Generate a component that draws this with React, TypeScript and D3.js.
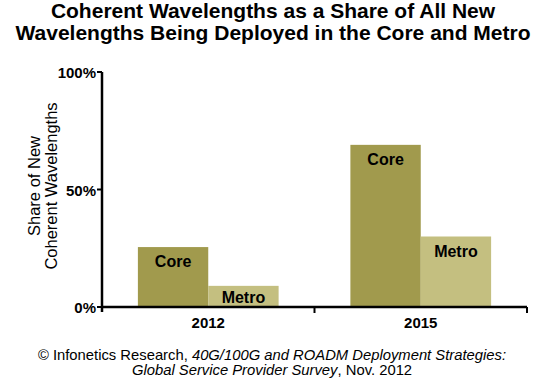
import React from "react";
import * as d3 from "d3";

const years = ["2012", "2015"];
const seriesNames = ["Core", "Metro"];
const coreValues = [25.5, 69];
const metroValues = [9, 30];
const yTicks = [0, 50, 100];
const titleLines = [
  "Coherent Wavelengths as a Share of All New",
  "Wavelengths Being Deployed in the Core and Metro",
];
const yTitleLines = ["Share of New", "Coherent Wavelengths"];

const W = 542;
const H = 381;
const colors = ["#a19a4d", "#c4bf80"];
const FONT = "'Liberation Sans', Arial, Helvetica, sans-serif";

export default function App() {
  const x0 = 102;
  const x1 = 527;
  const yTop = 72;
  const yBot = 307;

  const x = d3.scaleBand<string>().domain(years).range([x0, x1]).paddingInner(0).paddingOuter(0);
  const inner = d3
    .scaleBand<string>()
    .domain(seriesNames)
    .range([0, x.bandwidth()])
    .paddingOuter(0.51)
    .paddingInner(0);
  const y = d3.scaleLinear().domain([0, 100]).range([yBot, yTop]);

  const data = years.map((yr, i) => ({
    year: yr,
    values: [coreValues[i], metroValues[i]],
  }));

  return (
    <svg
      width={W}
      height={H}
      style={{ position: "absolute", left: 0, top: 0, background: "#fff" }}
      fontFamily={FONT}
    >
      <rect x={0} y={0} width={W} height={H} fill="#fff" />
      {titleLines.map((t, i) => (
        <text
          key={t}
          x={273}
          y={18 + i * 22}
          textAnchor="middle"
          fontWeight="bold"
          fontSize={21}
          fill="#000"
        >
          {t}
        </text>
      ))}

      {data.map((d) =>
        d.values.map((v, j) => {
          const bx = (x(d.year) as number) + (inner(seriesNames[j]) as number);
          const bw = inner.bandwidth();
          const top = y(v);
          const labelY = Math.min(top + 20, yBot - 4);
          return (
            <g key={d.year + j}>
              <rect x={bx} y={top} width={bw} height={yBot - top} fill={colors[j]} />
              <text
                x={bx + bw / 2}
                y={labelY}
                textAnchor="middle"
                fontWeight="bold"
                fontSize={16}
                fill="#000"
              >
                {seriesNames[j]}
              </text>
            </g>
          );
        })
      )}

      {/* axes */}
      <line x1={x0} x2={x0} y1={yTop} y2={yBot + 5} stroke="#000" strokeWidth={2.5} />
      <line x1={x0} x2={x1} y1={yBot} y2={yBot} stroke="#000" strokeWidth={2.5} />
      {yTicks.map((t) => (
        <g key={t}>
          <line x1={x0 - 5} x2={x0} y1={y(t)} y2={y(t)} stroke="#000" strokeWidth={2} />
          <text
            x={x0 - 6}
            y={y(t) + 6}
            textAnchor="end"
            fontWeight="bold"
            fontSize={15}
            fill="#000"
          >
            {t}%
          </text>
        </g>
      ))}
      {years.map((yr) => (
        <g key={yr}>
          <line
            x1={(x(yr) as number) + x.bandwidth()}
            x2={(x(yr) as number) + x.bandwidth()}
            y1={yBot}
            y2={yBot + 6}
            stroke="#000"
            strokeWidth={2}
          />
          <text
            x={(x(yr) as number) + x.bandwidth() / 2}
            y={328}
            textAnchor="middle"
            fontWeight="bold"
            fontSize={15}
            fill="#000"
          >
            {yr}
          </text>
        </g>
      ))}

      <g transform={`translate(0, 186) rotate(-90)`}>
        {yTitleLines.map((t, i) => (
          <text key={t} x={0} y={40 + i * 17} textAnchor="middle" fontSize={16.5} fill="#000">
            {t}
          </text>
        ))}
      </g>

      <text x={272} y={360} textAnchor="middle" fontSize={14.8} fill="#000">
        <tspan>© Infonetics Research, </tspan>
        <tspan fontStyle="italic">40G/100G and ROADM Deployment Strategies:</tspan>
      </text>
      <text x={272} y={375} textAnchor="middle" fontSize={14.8} fill="#000">
        <tspan fontStyle="italic">Global Service Provider Survey</tspan>
        <tspan>, Nov. 2012</tspan>
      </text>
    </svg>
  );
}
